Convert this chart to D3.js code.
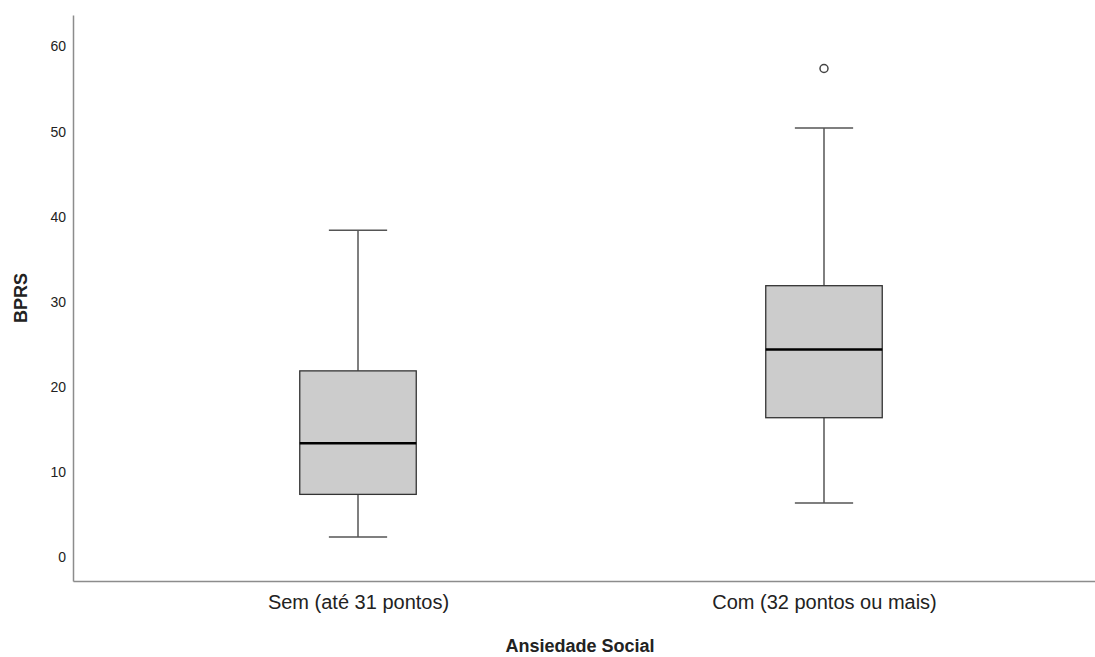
<!DOCTYPE html>
<html>
  <head>
    <meta charset="utf-8">
    <title>BPRS por Ansiedade Social</title>
    <script src="https://d3js.org/d3.v7.min.js"></script>
    <style>
      body { margin: 0; background: #fff; }
      svg text { font-family: "Liberation Sans", Arial, sans-serif; fill: #222; }
      .yaxis .domain, .xaxis .domain { stroke: #8c8c8c; stroke-width: 1.5; }
    </style>
  </head>
  <body>
    <svg id="chart" width="1095" height="657"></svg>

    <script>
        const categories  = ["Sem (até 31 pontos)", "Com (32 pontos ou mais)"]
        const whiskerLow  = [2, 6]
        const q1          = [7, 16]
        const median      = [13, 24]
        const q3          = [21.5, 31.5]
        const whiskerHigh = [38, 50]
        const outliers    = [[], [57]]
        const yTicks      = [0, 10, 20, 30, 40, 50, 60]

        let svg = d3.select("#chart")

        let x = d3.scalePoint()
                .domain(categories)
                .range([73, 1109])
                .padding(0.6116),
            y = d3.scaleLinear()
                .domain([-3.17, 63.28])
                .range([581, 15])

        let step = x.step(),
            boxW = step * 0.25,
            capW = step * 0.125

        let boxes = categories.map((c, i) => ({
            cat: c,
            lo: whiskerLow[i], q1: q1[i], med: median[i], q3: q3[i], hi: whiskerHigh[i],
            out: outliers[i]
        }))

        // eixos
        let yAxis = svg.append("g")
            .attr("class", "yaxis")
            .attr("transform", "translate(73,0)")
            .call(d3.axisLeft(y).tickValues(yTicks).tickSize(0).tickPadding(7))
        yAxis.selectAll("text")
            .attr("dy", 8)
            .style("font-size", "14px")

        let xAxis = svg.append("g")
            .attr("class", "xaxis")
            .attr("transform", "translate(0,581)")
            .call(d3.axisBottom(x).tickSize(0).tickSizeOuter(0))
        xAxis.selectAll("text")
            .attr("y", 28)
            .attr("dy", 0)
            .style("font-size", "20px")

        svg.append("text")
            .attr("x", 580)
            .attr("y", 652)
            .attr("text-anchor", "middle")
            .style("font-size", "18px")
            .style("font-weight", "bold")
            .text("Ansiedade Social")

        svg.append("text")
            .attr("transform", "translate(26.5,298) rotate(-90)")
            .attr("text-anchor", "middle")
            .style("font-size", "18px")
            .style("font-weight", "bold")
            .text("BPRS")

        // caixas
        let g = svg.selectAll(".box")
            .data(boxes)
            .join("g")
            .attr("class", "box")
            .attr("transform", d => `translate(${x(d.cat)},0)`)

        // whiskers
        g.append("line")
            .attr("x1", 0).attr("x2", 0)
            .attr("y1", d => y(d.hi)).attr("y2", d => y(d.q3))
            .attr("stroke", "#555").attr("stroke-width", 1.5)
        g.append("line")
            .attr("x1", 0).attr("x2", 0)
            .attr("y1", d => y(d.q1)).attr("y2", d => y(d.lo))
            .attr("stroke", "#555").attr("stroke-width", 1.5)
        g.append("line")
            .attr("x1", -capW / 2).attr("x2", capW / 2)
            .attr("y1", d => y(d.hi)).attr("y2", d => y(d.hi))
            .attr("stroke", "#555").attr("stroke-width", 1.5)
        g.append("line")
            .attr("x1", -capW / 2).attr("x2", capW / 2)
            .attr("y1", d => y(d.lo)).attr("y2", d => y(d.lo))
            .attr("stroke", "#555").attr("stroke-width", 1.5)

        g.append("rect")
            .attr("x", -boxW / 2)
            .attr("width", boxW)
            .attr("y", d => y(d.q3))
            .attr("height", d => y(d.q1) - y(d.q3))
            .attr("fill", "#cccccc")
            .attr("stroke", "#333")
            .attr("stroke-width", 1.3)

        g.append("line")
            .attr("x1", -boxW / 2).attr("x2", boxW / 2)
            .attr("y1", d => y(d.med)).attr("y2", d => y(d.med))
            .attr("stroke", "#000").attr("stroke-width", 2.5)

        g.selectAll(".outlier")
            .data(d => d.out)
            .join("circle")
            .attr("class", "outlier")
            .attr("cx", 0)
            .attr("cy", d => y(d))
            .attr("r", 4)
            .attr("fill", "#fff")
            .attr("stroke", "#444")
            .attr("stroke-width", 1.5)
    </script>
  </body>
</html>
